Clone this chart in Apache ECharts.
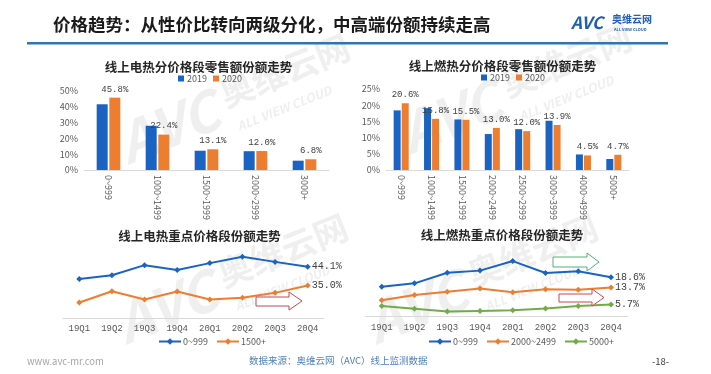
<!DOCTYPE html>
<html><head><meta charset="utf-8">
<script src="https://cdn.jsdelivr.net/npm/echarts@6/dist/echarts.min.js"></script>
<style>html,body{margin:0;padding:0;background:#fff}#c{width:711px;height:374px}</style>
</head><body><div id="c"></div>
<script>
// ---- data ----
const elecCats = ['0~999', '1000~1499', '1500~1999', '2000~2999', '3000+'];
const elec2019 = [41.6, 28.0, 12.2, 11.9, 5.9];
const elec2020 = [45.8, 22.4, 13.1, 12.0, 6.8];
const gasCats = ['0~999', '1000~1499', '1500~1999', '2000~2499', '2500~2999', '3000~3999', '4000~4999', '5000+'];
const gas2019 = [18.4, 19.1, 15.6, 11.1, 12.6, 15.2, 4.8, 3.4];
const gas2020 = [20.6, 15.8, 15.5, 13.0, 12.0, 13.9, 4.5, 4.7];
const quarters = ['19Q1', '19Q2', '19Q3', '19Q4', '20Q1', '20Q2', '20Q3', '20Q4'];
const elecLow = [38.2, 40.0, 44.9, 42.5, 45.9, 49.0, 46.5, 44.1];
const elecHigh = [26.7, 32.2, 28.2, 32.1, 28.2, 29.0, 31.4, 35.0];
const gasLow = [14.1, 15.7, 20.7, 21.7, 26.2, 20.6, 21.4, 18.6];
const gasMid = [7.7, 10.2, 11.8, 13.3, 11.5, 12.9, 12.7, 13.7];
const gasHigh = [5.0, 3.8, 2.4, 2.7, 3.0, 3.9, 5.0, 5.7];
const elecYTicks = [0, 10, 20, 30, 40, 50];
const gasYTicks = [0, 5, 10, 15, 20, 25];

// ---- styles ----
const CN = '"Noto Sans CJK SC", "Noto Sans", sans-serif';
const MONO = '"Liberation Mono", "DejaVu Sans Mono", monospace';
const BLUE = '#1a63c2', ORANGE = '#ed7d31', GREEN = '#70ad47';
const pct = p => Number(p.value).toFixed(1) + '%';

function lastOnly(vals) {
  return vals.map((v, i) => i === vals.length - 1 ? { value: v, label: { show: true } } : v);
}
function watermark(x, y, s) {
  const c = 'rgba(190,190,190,0.24)';
  return {
    type: 'group', x: x, y: y, rotation: 0.38, silent: true, z: 0,
    children: [
      { type: 'text', x: 0, y: 0, style: { text: 'AVC', font: 'italic bold ' + (58 * s) + 'px ' + CN, fill: c } },
      { type: 'text', x: 118 * s, y: 2 * s, style: { text: '奥维云网', font: 'bold ' + (36 * s) + 'px ' + CN, fill: c } },
      { type: 'text', x: 122 * s, y: 50 * s, style: { text: 'ALL VIEW CLOUD', font: 'italic bold ' + (13 * s) + 'px ' + CN, fill: c } }
    ]
  };
}
function arrow(pts, color) {
  return { type: 'polygon', shape: { points: pts }, style: { fill: '#fff', stroke: color, lineWidth: 1 }, z: 5 };
}

const chart = echarts.init(document.getElementById('c'));

const barXAxis = (gi, cats) => ({
  type: 'category', gridIndex: gi, data: cats,
  axisLine: { lineStyle: { color: '#d9d9d9' } }, axisTick: { show: false },
  axisLabel: { rotate: -90, fontSize: 9, color: '#595959', fontFamily: CN, margin: 5, interval: 0 }
});
const barYAxis = (gi, max, step) => ({
  type: 'value', gridIndex: gi, min: 0, max: max, interval: step,
  axisLine: { show: false }, axisTick: { show: false }, splitLine: { show: false },
  axisLabel: { fontSize: 9, color: '#595959', fontFamily: CN, margin: 6, formatter: '{value}%' }
});
const lineXAxis = (gi) => ({
  type: 'category', gridIndex: gi, data: quarters,
  axisLine: { lineStyle: { color: '#d9d9d9' } }, axisTick: { show: false },
  axisLabel: { fontSize: 9, color: '#595959', fontFamily: MONO, margin: 6 }
});
const lineYAxis = (gi, min, max) => ({
  type: 'value', gridIndex: gi, min: min, max: max, show: false, splitLine: { show: false }
});
const barLabel = { show: true, position: 'top', distance: 4, formatter: pct, fontFamily: MONO, fontSize: 9, color: '#404040' };
const lineLabel = { show: false, position: 'right', distance: 1, formatter: pct, fontFamily: MONO, fontSize: 10, color: '#404040' };
const lineSeries = (name, gi, vals, color) => ({
  name: name, type: 'line', xAxisIndex: gi, yAxisIndex: gi, data: lastOnly(vals),
  symbol: 'diamond', symbolSize: 6, lineStyle: { width: 2, color: color }, itemStyle: { color: color },
  label: lineLabel, z: 3
});

chart.setOption({
  animation: false,
  textStyle: { fontFamily: CN },
  grid: [
    { left: 84, top: 91, width: 245, height: 79 },
    { left: 386, top: 89, width: 243, height: 81 },
    { left: 63, top: 250.6, width: 261, height: 67.7 },
    { left: 365.4, top: 253, width: 262, height: 63.7 }
  ],
  xAxis: [barXAxis(0, elecCats), barXAxis(1, gasCats), lineXAxis(2), lineXAxis(3)],
  yAxis: [
    barYAxis(0, elecYTicks[elecYTicks.length - 1], elecYTicks[1]),
    barYAxis(1, gasYTicks[gasYTicks.length - 1], gasYTicks[1]),
    lineYAxis(2, 19, 52),
    lineYAxis(3, 0, 30)
  ],
  legend: [
    { data: ['2019', '2020'], left: 173, top: 69, icon: 'rect', itemWidth: 6, itemHeight: 6, itemGap: 6,
      textStyle: { fontSize: 9, color: '#595959', fontFamily: CN, padding: [0, 0, 0, -2] } },
    { data: ['2019', '2020'], left: 476, top: 68, icon: 'rect', itemWidth: 6, itemHeight: 6, itemGap: 6,
      textStyle: { fontSize: 9, color: '#595959', fontFamily: CN, padding: [0, 0, 0, -2] } },
    { data: ['0~999', '1500+'], left: 153, top: 332, itemWidth: 22, itemHeight: 8, itemGap: 8,
      textStyle: { fontSize: 9, color: '#595959', fontFamily: CN, padding: [0, 0, 0, -3] } },
    { data: ['0~999', '2000~2499', '5000+'], left: 423, top: 332, itemWidth: 22, itemHeight: 8, itemGap: 8,
      textStyle: { fontSize: 9, color: '#595959', fontFamily: CN, padding: [0, 0, 0, -3] } }
  ],
  series: [
    { name: '2019', type: 'bar', xAxisIndex: 0, yAxisIndex: 0, data: elec2019, barWidth: 11, barGap: '15%', itemStyle: { color: BLUE } },
    { name: '2020', type: 'bar', xAxisIndex: 0, yAxisIndex: 0, data: elec2020, barWidth: 11, barGap: '15%', itemStyle: { color: ORANGE }, label: barLabel },
    { name: '2019', type: 'bar', xAxisIndex: 1, yAxisIndex: 1, data: gas2019, barWidth: 7, barGap: '15%', itemStyle: { color: BLUE } },
    { name: '2020', type: 'bar', xAxisIndex: 1, yAxisIndex: 1, data: gas2020, barWidth: 7, barGap: '15%', itemStyle: { color: ORANGE }, label: barLabel },
    lineSeries('0~999', 2, elecLow, BLUE),
    lineSeries('1500+', 2, elecHigh, ORANGE),
    lineSeries('0~999', 3, gasLow, BLUE),
    lineSeries('2000~2499', 3, gasMid, ORANGE),
    lineSeries('5000+', 3, gasHigh, GREEN)
  ],
  graphic: [
    watermark(110, 120, 0.95),
    watermark(392, 110, 0.95),
    watermark(108, 300, 0.95),
    watermark(358, 300, 0.95),
    // header
    { type: 'text', left: 53, top: 16, style: { text: '价格趋势：从性价比转向两级分化，中高端份额持续走高', font: 'bold 17.5px ' + CN, fill: '#1a1a1a' } },
    { type: 'rect', shape: { x: 27, y: 42, width: 641, height: 2.5 }, style: { fill: '#2e75b6' } },
    { type: 'text', left: 571, top: 14, style: { text: 'AVC', font: 'italic bold 17px ' + CN, fill: '#1f5fb0' } },
    { type: 'text', left: 612, top: 14, style: { text: '奥维云网', font: 'bold 10px ' + CN, fill: '#1f5fb0' } },
    { type: 'text', left: 614, top: 27, style: { text: 'ALL VIEW CLOUD', font: 'bold 4px ' + CN, fill: '#1f5fb0' } },
    // sub titles
    { type: 'text', x: 198.5, y: 67, style: { text: '线上电热分价格段零售额份额走势', font: 'bold 12.5px ' + CN, fill: '#262626', align: 'center', verticalAlign: 'middle' } },
    { type: 'text', x: 502.5, y: 66, style: { text: '线上燃热分价格段零售额份额走势', font: 'bold 12.5px ' + CN, fill: '#262626', align: 'center', verticalAlign: 'middle' } },
    { type: 'text', x: 199.5, y: 236, style: { text: '线上电热重点价格段份额走势', font: 'bold 12.5px ' + CN, fill: '#262626', align: 'center', verticalAlign: 'middle' } },
    { type: 'text', x: 502, y: 235, style: { text: '线上燃热重点价格段份额走势', font: 'bold 12.5px ' + CN, fill: '#262626', align: 'center', verticalAlign: 'middle' } },
    // arrows
    arrow([[256, 297], [289, 297], [289, 292], [302, 301], [289, 310], [289, 306], [256, 306]], '#c9474a'),
    arrow([[553, 257], [587, 257], [587, 253], [599, 262], [587, 271], [587, 267], [553, 267]], '#55b070'),
    arrow([[559, 294], [592, 294], [592, 289], [604, 297.5], [592, 306], [592, 302], [559, 302]], '#c9474a'),
    // footer
    { type: 'text', left: 27, top: 357, style: { text: 'www.avc-mr.com', font: '9.5px ' + CN, fill: '#a6a6a6' } },
    { type: 'text', left: 249, top: 356, style: { text: '数据来源：奥维云网（AVC）线上监测数据', font: '9.5px ' + CN, fill: '#4f81bd' } },
    { type: 'text', left: 652, top: 357, style: { text: '-18-', font: '9.5px ' + CN, fill: '#404040' } }
  ]
});
</script>
</body></html>
